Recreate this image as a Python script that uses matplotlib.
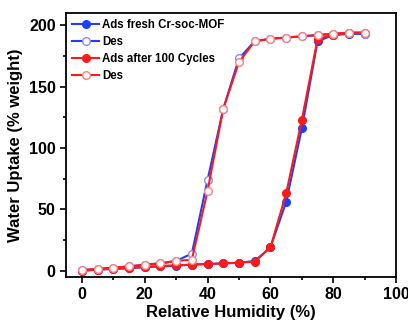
import matplotlib
matplotlib.use("Agg")
import matplotlib.pyplot as plt
from matplotlib.ticker import MultipleLocator

plt.rcParams['font.family'] = ['Liberation Sans', 'DejaVu Sans']
plt.rcParams['font.weight'] = 'bold'

# relative humidity (%)
rh_ads = [0, 5, 10, 15, 20, 25, 30, 35, 40, 45, 50, 55, 60, 65, 70, 75, 80, 85, 90]
rh_des = [90, 85, 80, 75, 70, 65, 60, 55, 50, 45, 40, 35, 30, 25, 20, 15, 10, 5, 0]

# water uptake (% weight)
ads_fresh = [0, 1, 1.5, 2, 3, 3.5, 4, 5, 5.5, 6, 6.5, 8, 19, 56, 116, 187, 192, 193, 193]
des_fresh = [193, 194, 193, 192, 191, 190, 189, 187, 173, 132, 74, 14, 8, 6, 5, 3.5, 2.5, 1.5, 0.5]
ads_cycled = [0, 1, 1.5, 2.5, 3, 4, 4.5, 5, 5.5, 6, 6.5, 7.5, 19, 63, 123, 189, 192, 194, 194]
des_cycled = [194, 194, 193, 192, 191, 190, 189, 187, 170, 132, 65, 9, 8, 6, 5, 3.5, 2.5, 1.5, 0.5]

blue = '#1f3fff'
red = '#ff1a1a'

fig = plt.figure(figsize=(4.08, 3.25), dpi=100)
ax = fig.add_axes([0.162, 0.148, 0.809, 0.812])

ax.plot(rh_ads, ads_fresh, '-o', color=blue, lw=1.5, ms=5.5, label='Ads fresh Cr-soc-MOF')
ax.plot(rh_des, des_fresh, '-o', color=blue, lw=1.5, ms=5.5, mfc='white', mec='#8a8aff',
        label='Des')
ax.plot(rh_ads, ads_cycled, '-o', color=red, lw=1.5, ms=5.5, label='Ads after 100 Cycles')
ax.plot(rh_des, des_cycled, '-o', color=red, lw=1.5, ms=5.5, mfc='white', mec='#ff8080',
        label='Des')

ax.set_xlim(-5, 100)
ax.set_ylim(-5, 210)
ax.xaxis.set_major_locator(MultipleLocator(20))
ax.xaxis.set_minor_locator(MultipleLocator(10))
ax.yaxis.set_major_locator(MultipleLocator(50))
ax.yaxis.set_minor_locator(MultipleLocator(25))
ax.tick_params(which='both', direction='out', width=1.2, labelsize=11.5)
ax.tick_params(which='major', length=4)
ax.tick_params(which='minor', length=2.5)
for s in ax.spines.values():
    s.set_linewidth(1.3)

ax.set_xlabel('Relative Humidity (%)', fontsize=12, fontweight='bold', labelpad=2)
ax.set_ylabel('Water Uptake (% weight)', fontsize=12, fontweight='bold', labelpad=4)

ax.legend(loc='upper left', frameon=False, handlelength=2.3,
          handletextpad=0.3, labelspacing=0.42, borderaxespad=0.15,
          prop={'weight': 'bold', 'size': 8.3})

fig.savefig('out.png', dpi=100)
